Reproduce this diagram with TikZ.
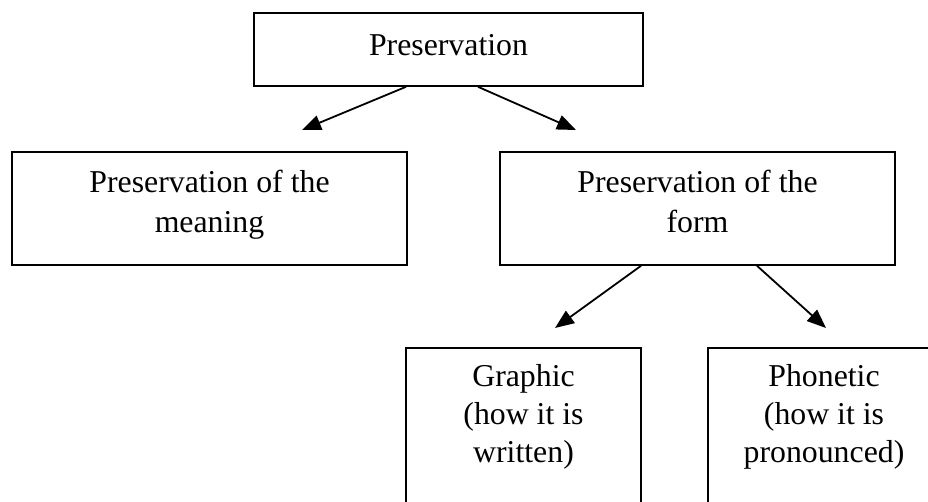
\documentclass[tikz,border=0pt]{standalone}
\usepackage{fontspec}
\setmainfont{Liberation Serif}
\usetikzlibrary{arrows.meta}

\begin{document}
\begin{tikzpicture}[x=1pt,y=-1pt,
  box/.style={draw,line width=1.6pt,inner sep=0pt,align=center,
              font=\fontsize{31.8}{40}\selectfont},
  toplevel/.style={box,minimum width=389pt,minimum height=73pt,
                   text height=22pt,text depth=11pt},
  midlevel/.style={box,minimum width=395pt,minimum height=113pt,
                   text height=62pt,text depth=15pt},
  leaf/.style={box,anchor=north,font=\fontsize{31.8}{38}\selectfont,
               text height=115pt,text depth=100pt},
  arrow/.style={-{Triangle[length=19pt,width=15pt]},line width=1.8pt},
]
\clip (0,0) rectangle (928,501);

% Root
\node[toplevel] (pres) at (448.5,49.5) {Preservation};

% Second level
\node[midlevel] (meaning) at (209.5,208.5) {Preservation of the\\meaning};
\node[midlevel] (form)    at (697.5,208.5) {Preservation of the\\form};

% Third level
\node[leaf,minimum width=235pt] (graphic)  at (523.5,347) {Graphic\\(how it is\\written)};
\node[leaf,minimum width=232pt] (phonetic) at (824,347)   {Phonetic\\(how it is\\pronounced)};

% Arrow tips
\coordinate (tipmeaning)  at (302,130);
\coordinate (tipform)     at (576,130);
\coordinate (tipgraphic)  at (555,328);
\coordinate (tipphonetic) at (826,328);

\draw[arrow] ([xshift=-42.5pt]pres.south) -- (tipmeaning);
\draw[arrow] ([xshift=29.5pt]pres.south)  -- (tipform);
\draw[arrow] ([xshift=-56.5pt]form.south) -- (tipgraphic);
\draw[arrow] ([xshift=59.5pt]form.south)  -- (tipphonetic);
\end{tikzpicture}
\end{document}
